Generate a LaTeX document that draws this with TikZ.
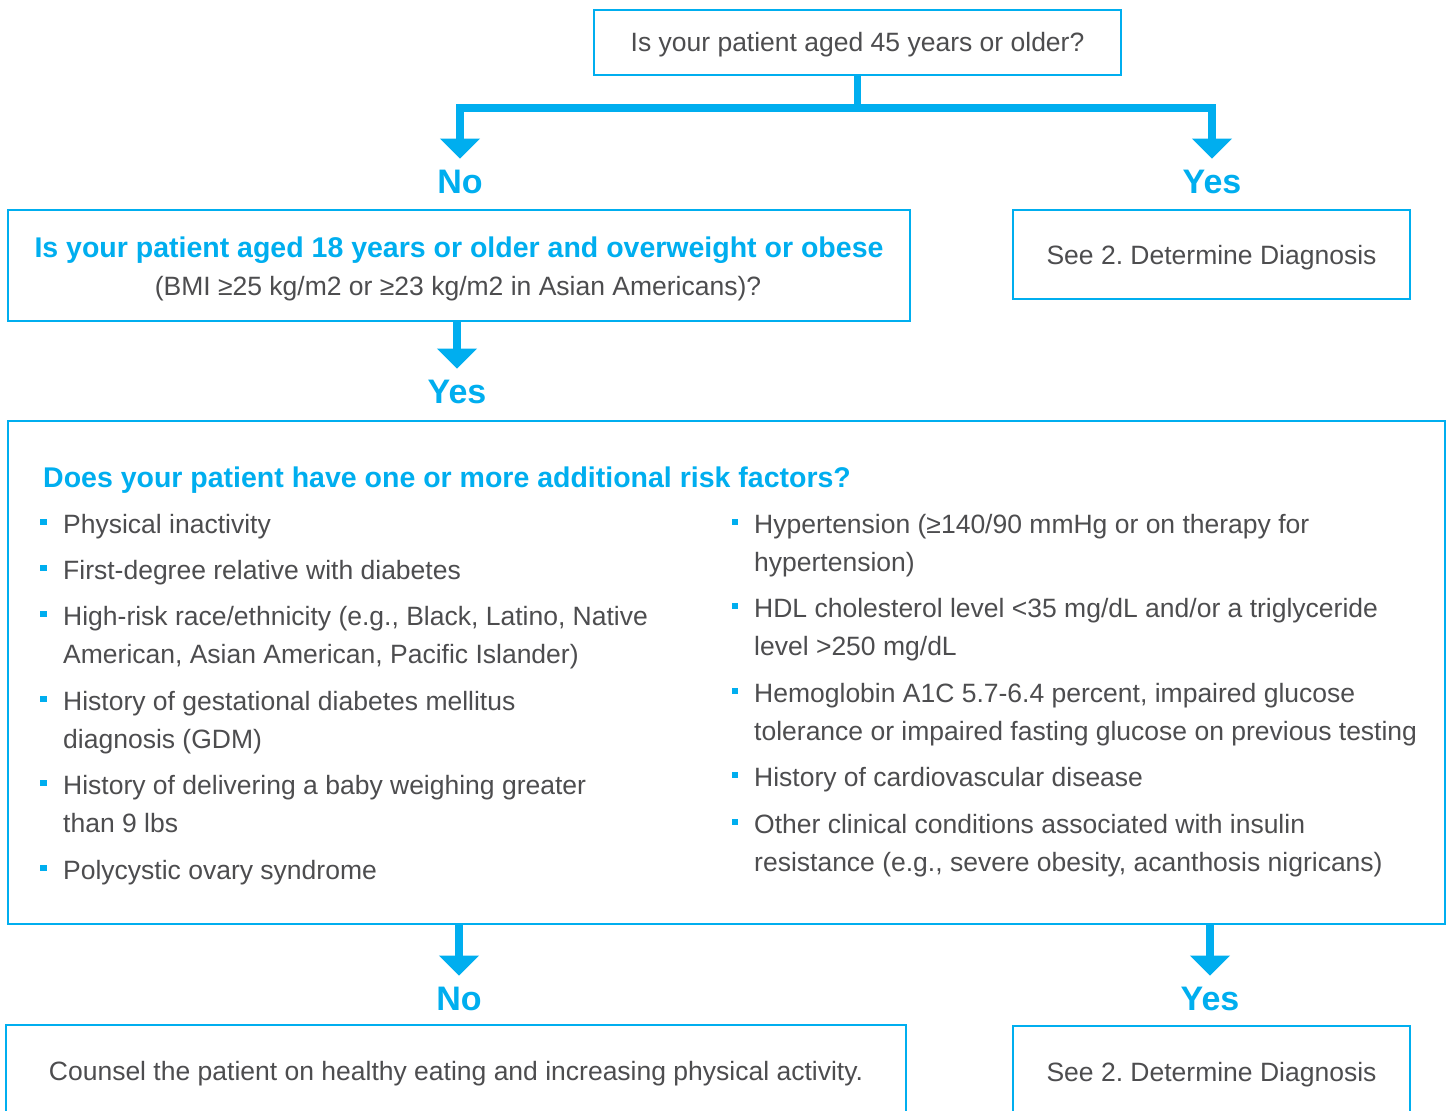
\documentclass[tikz,border=0pt]{standalone}
\usepackage{fontspec}
\setmainfont{Liberation Sans}
\usetikzlibrary{arrows.meta}
\definecolor{cy}{HTML}{00AEEF}
\definecolor{tx}{HTML}{4D4D4F}
\frenchspacing
\begin{document}
\begin{tikzpicture}[x=1pt,y=-1pt,
 box/.style={draw=cy,line width=2pt,inner sep=0pt,text=tx,font=\fontsize{26.5}{38}\selectfont,text height=19pt,text depth=0pt},
 body/.style={font=\fontsize{26.5}{38}\selectfont,text=tx,inner sep=0pt,text height=19pt,text depth=0pt},
 ttl/.style={font=\fontsize{28.5}{34}\selectfont\bfseries,text=cy,inner sep=0pt,text height=20.4pt,text depth=0pt},
 lbl/.style={font=\fontsize{34}{40}\selectfont\bfseries,text=cy,inner sep=0pt,text height=24.4pt,text depth=0pt},
 conn/.style={draw=cy,line width=7.5pt,line join=miter,-{Triangle[width=39pt,length=20pt]},shorten >=10pt},
 bul/.style={fill=cy,minimum size=6.5pt,inner sep=0pt}]
\useasboundingbox (0,0) rectangle (1447,1110);
\clip (0,0) rectangle (1447,1110);
\fill[white] (0,0) rectangle (1447,1110);

% boxes
\node[box,minimum width=527pt,minimum height=65pt] (q1) at (857.5,42.5) {Is your patient aged 45 years or older?};
\node[box,minimum width=902pt,minimum height=111pt] (q2) at (459,265.5) {};
\node[box,minimum width=397pt,minimum height=89pt] (d1) at (1211.5,254.5) {See 2. Determine Diagnosis};
\node[box,minimum width=1437pt,minimum height=503pt] (q3) at (726.5,672.5) {};
\node[box,minimum width=900pt,minimum height=130pt] (c1) at (456,1090) {};
\node[box,minimum width=397pt,minimum height=130pt] (d2) at (1211.5,1091) {};

% labels
\node[lbl] (no1) at (460,181) {No};
\node[lbl] (yes1) at (1212,181) {Yes};
\node[lbl] (yes2) at (457,391) {Yes};
\node[lbl] (no3) at (459,998) {No};
\node[lbl] (yes3) at (1210,998) {Yes};

% connectors
\path (q1.south) ++(0,32) coordinate (j1);
\draw[conn] (q1.south) -- (j1) -| (no1.north);
\draw[conn] (j1) -| (yes1.north);
\draw[conn] (yes2.north |- q2.south) -- (yes2.north);
\draw[conn] (no3.north |- q3.south) -- (no3.north);
\draw[conn] (yes3.north |- q3.south) -- (yes3.north);

% box 2 text
\node[ttl] (t2a) at (459,247) {Is your patient aged 18 years or older and overweight or obese};
\node[body] (t2b) at (458,286) {(BMI ≥25 kg/m2 or ≥23 kg/m2 in Asian Americans)?};

% big box title
\node[ttl,anchor=west] (t3) at (43,477) {Does your patient have one or more additional risk factors?};

% left list
\foreach \y in {524,570,616,701,785,870} \node[bul] at (43.5,\y-2) {};
\node[body,anchor=west] at (63,524) {Physical inactivity};
\node[body,anchor=west] at (63,570) {First-degree relative with diabetes};
\node[body,anchor=west] at (63,616) {High-risk race/ethnicity (e.g., Black, Latino, Native};
\node[body,anchor=west] at (63,654) {American, Asian American, Pacific Islander)};
\node[body,anchor=west] at (63,701) {History of gestational diabetes mellitus};
\node[body,anchor=west] at (63,739) {diagnosis (GDM)};
\node[body,anchor=west] at (63,785) {History of delivering a baby weighing greater};
\node[body,anchor=west] at (63,823) {than 9 lbs};
\node[body,anchor=west] at (63,870) {Polycystic ovary syndrome};

% right list
\foreach \y in {524,608,693,777,824} \node[bul] at (735,\y-2) {};
\node[body,anchor=west] at (754,524) {Hypertension (≥140/90 mmHg or on therapy for};
\node[body,anchor=west] at (754,562) {hypertension)};
\node[body,anchor=west] at (754,608) {HDL cholesterol level <35 mg/dL and/or a triglyceride};
\node[body,anchor=west] at (754,646) {level >250 mg/dL};
\node[body,anchor=west] at (754,693) {Hemoglobin A1C 5.7-6.4 percent, impaired glucose};
\node[body,anchor=west] at (754,731) {tolerance or impaired fasting glucose on previous testing};
\node[body,anchor=west] at (754,777) {History of cardiovascular disease};
\node[body,anchor=west] at (754,824) {Other clinical conditions associated with insulin};
\node[body,anchor=west] at (754,862) {resistance (e.g., severe obesity, acanthosis nigricans)};

% bottom texts
\node[body] (tc) at (456,1071) {Counsel the patient on healthy eating and increasing physical activity.};
\node[body] (td) at (1211.5,1072) {See 2. Determine Diagnosis};
\end{tikzpicture}
\end{document}
